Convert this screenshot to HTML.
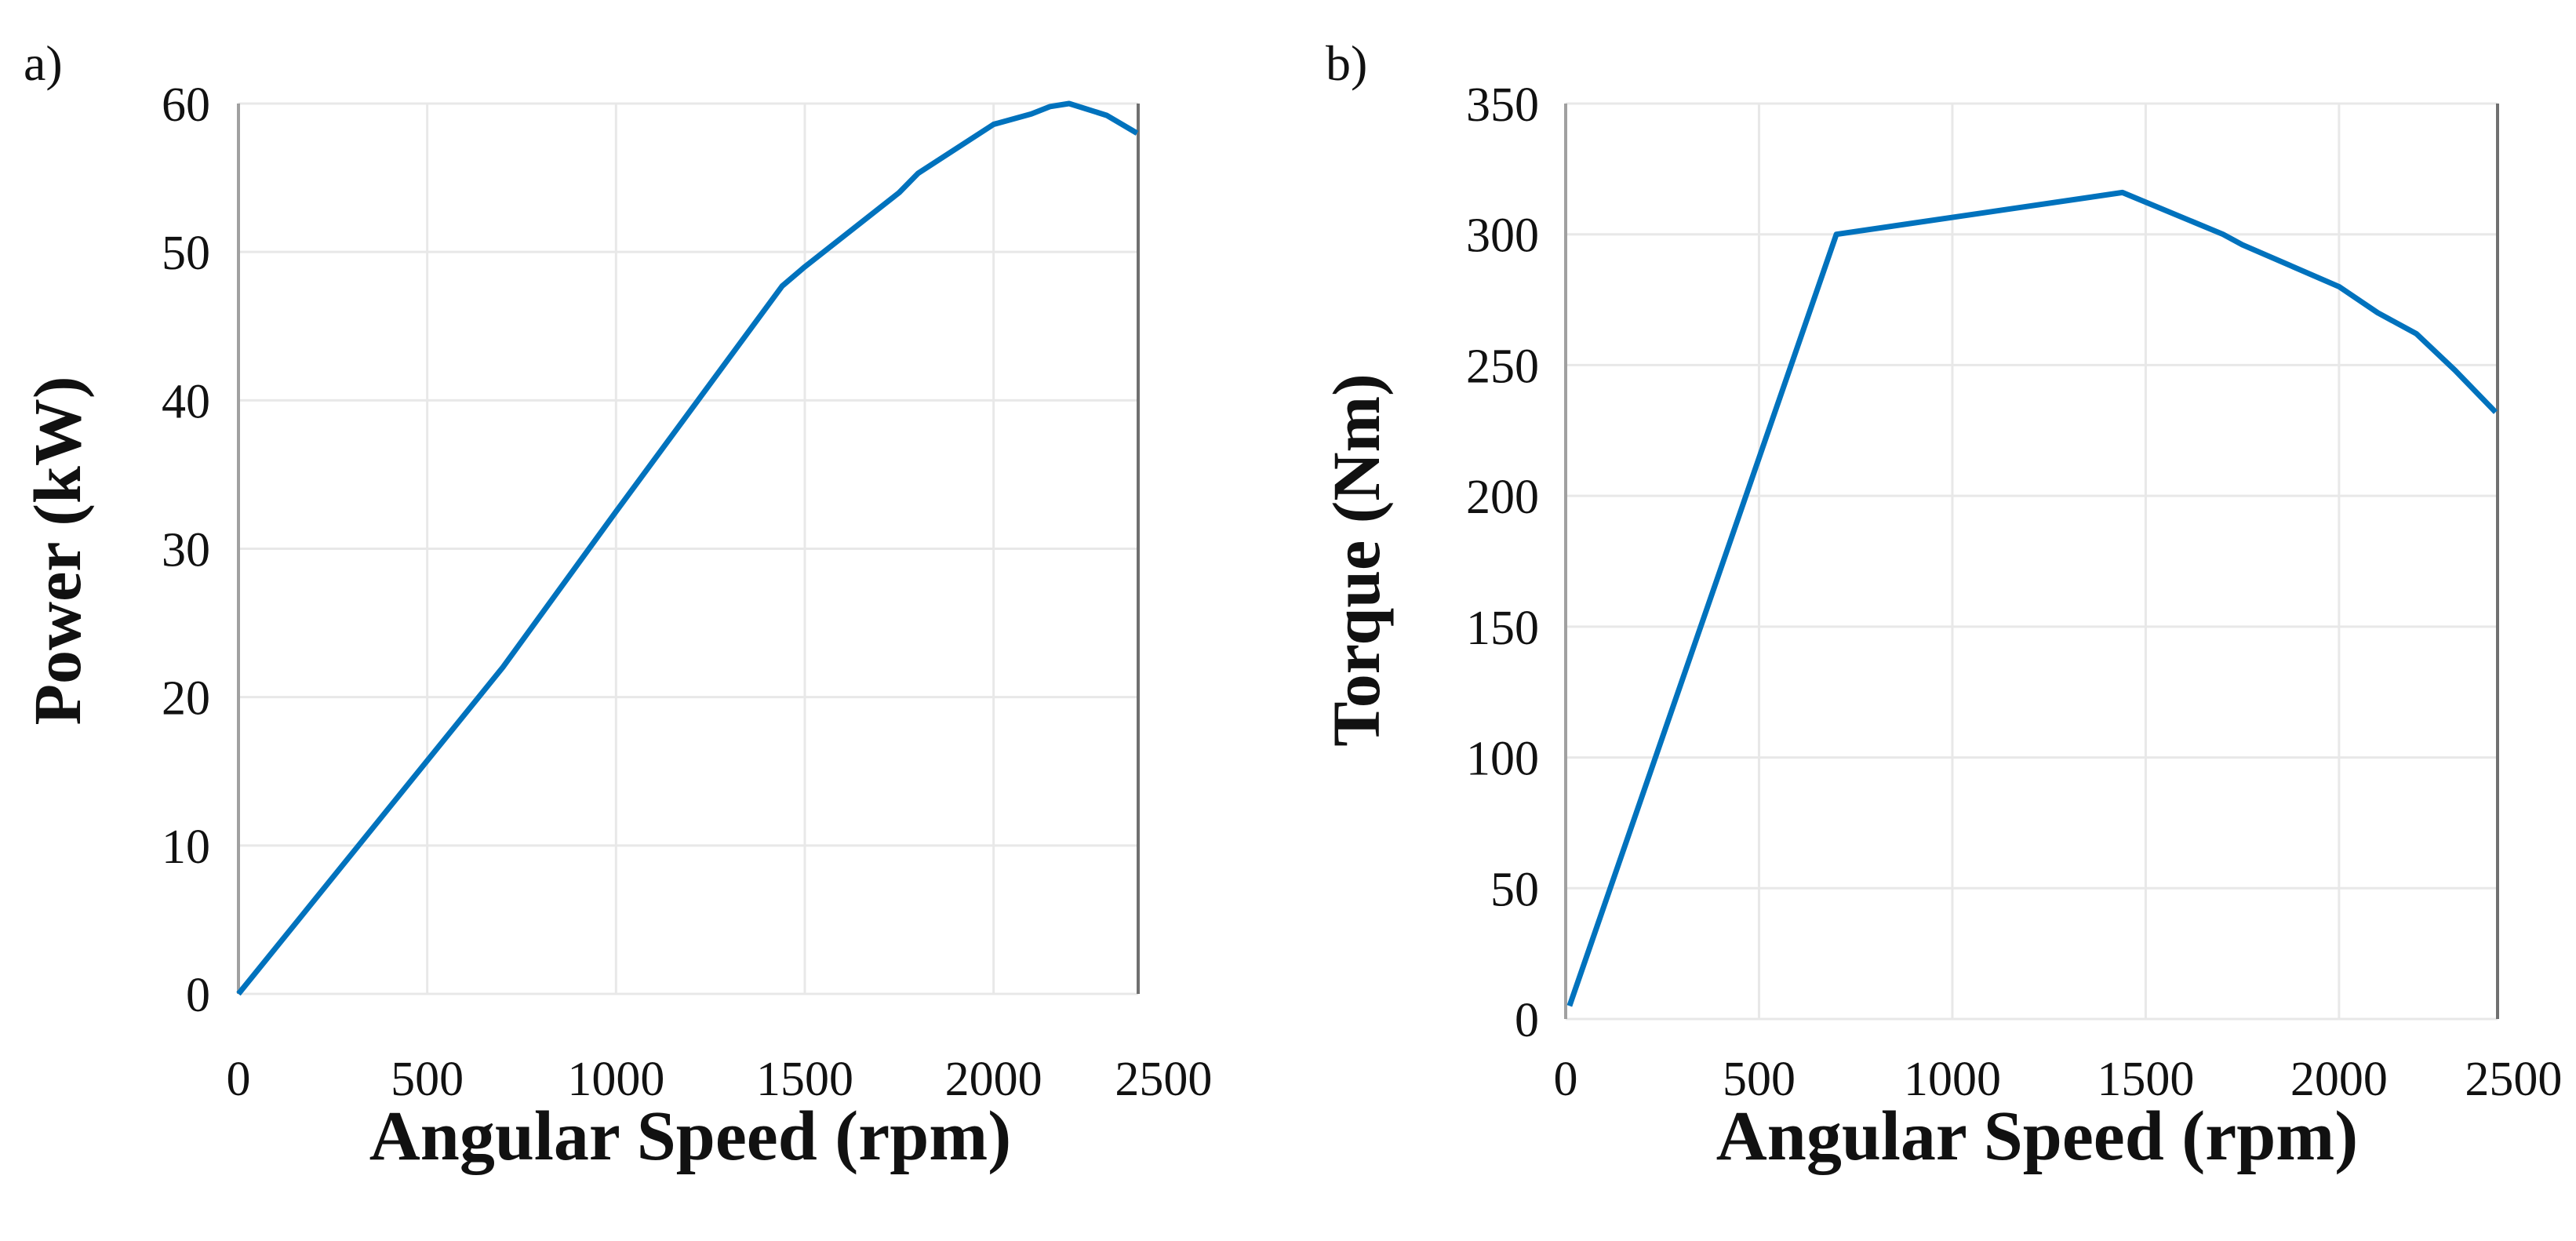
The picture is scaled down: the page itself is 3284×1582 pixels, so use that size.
<!DOCTYPE html>
<html><head><meta charset="utf-8"><style>
html,body{margin:0;padding:0;background:#fff;}
svg{display:block;}
text{font-family:"Liberation Serif",serif;fill:#111;}
</style></head><body>
<svg id="fig" width="3284" height="1582" viewBox="0 0 3284 1582" xmlns="http://www.w3.org/2000/svg"></svg>
<script>
const powerSpeed=[0,700,1000,1440,1500,1700,1750,1800,2000,2100,2150,2200,2300,2380];
const powerKW=[0,22,32.5,47.7,49,53,54,55.3,58.6,59.3,59.8,60,59.2,58];
const torqueSpeed=[10,700,1440,1700,1750,2000,2100,2200,2300,2405];
const torqueNm=[5,300,316,300,296,280,270,262,248,232];
const xTicks=[0,500,1000,1500,2000,2500];
const powerTicks=[0,10,20,30,40,50,60];
const torqueTicks=[0,50,100,150,200,250,300,350];

const svg=document.getElementById('fig');
const NS='http://www.w3.org/2000/svg';
function el(tag,attrs,parent){const e=document.createElementNS(NS,tag);for(const k in attrs)e.setAttribute(k,attrs[k]);(parent||svg).appendChild(e);return e;}

function panel(cfg){
  const g=el('g',{});
  
  
  const X=v=>cfg.x0+(v-0)*cfg.xs;
  const Y=v=>cfg.y0-(v-0)*cfg.ys;
  xTicks.forEach(t=>{const px=X(t);if(px>cfg.x0&&px<cfg.x1){const l=el('line',{x1:px,x2:px,y1:cfg.yTop,y2:cfg.y0,stroke:'#e8e8e8','stroke-width':3},g);}});
  cfg.yTicks.forEach(t=>{const py=Y(t);const l=el('line',{x1:cfg.x0,x2:cfg.x1,y1:py,y2:py,stroke:'#e8e8e8','stroke-width':3},g);});
  const ax=el('line',{x1:cfg.x0,x2:cfg.x0,y1:cfg.yTop,y2:cfg.y0,stroke:'#a0a0a0','stroke-width':4},g);
  
  const rx=el('line',{x1:cfg.x1,x2:cfg.x1,y1:cfg.yTop,y2:cfg.y0,stroke:'#707070','stroke-width':4},g);
  
  const pts=cfg.xs_.map((v,i)=>X(v).toFixed(1)+','+Y(cfg.ys_[i]).toFixed(1)).join(' ');
  const pl=el('polyline',{points:pts,fill:'none',stroke:'#0072BD','stroke-width':7,'stroke-linejoin':'round'},g);
  
  xTicks.forEach((t,i)=>{let px=X(t);if(i===xTicks.length-1)px-=24;const tx=el('text',{x:px,y:cfg.xLabY,'font-size':62,'text-anchor':'middle'},g);tx.textContent=t;});
  cfg.yTicks.forEach(t=>{const tx=el('text',{x:cfg.yLabX,y:Y(t)+22,'font-size':62,'text-anchor':'end'},g);tx.textContent=t;});
  const xt=el('text',{x:cfg.xTitleX,y:1478,'font-size':90,'font-weight':'bold','text-anchor':'middle'},g);
  xt.textContent='Angular Speed (rpm)';
  const yt=el('text',{x:0,y:0,'font-size':86,'font-weight':'bold','text-anchor':'middle',transform:`translate(${cfg.yTitleX},${cfg.yTitleY}) rotate(-90)`},g);
  yt.textContent=cfg.yTitle;
  const pl2=el('text',{x:cfg.lblX,y:102,'font-size':64},g);
  pl2.textContent=cfg.lbl;
}
panel({name:'power-chart',x0:304,x1:1451,y0:1267,yTop:132,xs:(1451-304)/2383,ys:(1267-132)/60,
  yTicks:powerTicks,xs_:powerSpeed,ys_:powerKW,seriesName:'power-line',xLabY:1396,yLabX:268,
  xTitleX:880,yTitleX:102,yTitleY:702,yTitle:'Power (kW)',lbl:'a)',lblX:30});
panel({name:'torque-chart',x0:1996,x1:3184,y0:1299,yTop:132,xs:(3184-1996)/2410,ys:(1299-132)/350,
  yTicks:torqueTicks,xs_:torqueSpeed,ys_:torqueNm,seriesName:'torque-line',xLabY:1396,yLabX:1962,
  xTitleX:2597,yTitleX:1758,yTitleY:714,yTitle:'Torque (Nm)',lbl:'b)',lblX:1690});
</script>
</body></html>
